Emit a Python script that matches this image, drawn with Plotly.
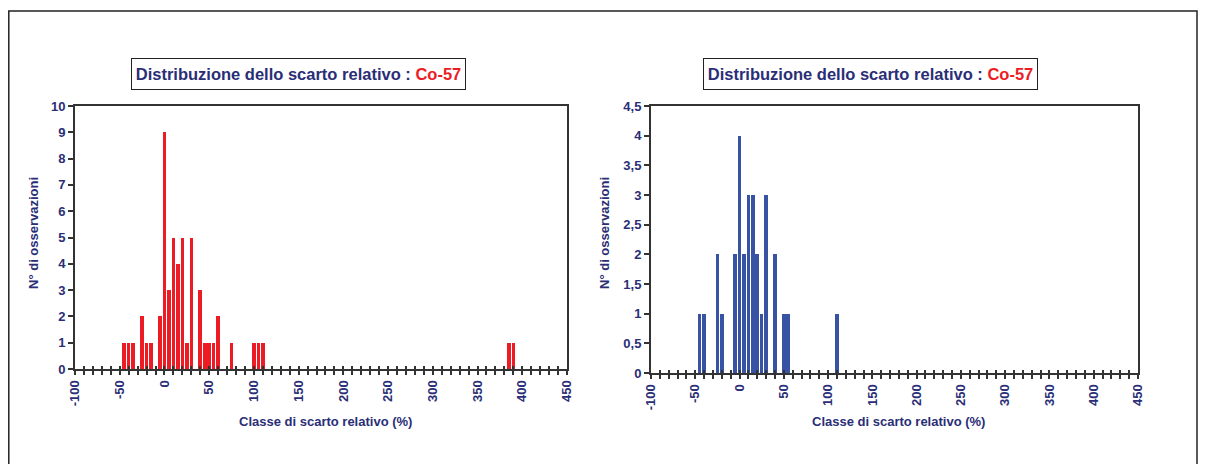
import plotly.graph_objects as go

# classi di scarto relativo (%) e numero di osservazioni
classi_sx = [-45, -40, -35, -25, -20, -15, -5, 0, 5, 10, 15, 20, 25, 30,
             40, 45, 50, 55, 60, 75, 100, 105, 110, 385, 390]
oss_sx = [1, 1, 1, 2, 1, 1, 2, 9, 3, 5, 4, 5, 1, 5,
          3, 1, 1, 1, 2, 1, 1, 1, 1, 1, 1]

classi_dx = [-45, -40, -25, -20, -5, 0, 5, 10, 15, 20, 25, 30, 40, 50, 55, 110]
oss_dx = [1, 1, 2, 1, 2, 4, 2, 3, 3, 2, 1, 3, 2, 1, 1, 1]

x_tick_vals = [-100, -50, 0, 50, 100, 150, 200, 250, 300, 350, 400, 450]
x_tick_text = ["-100", "-50", "0", "50", "100", "150", "200", "250", "300", "350", "400", "450"]

# the page body keeps its default 8px margin, so the figure is drawn 8px in
OFF = 8
W, H = 1206 - 2 * OFF, 472 - 2 * OFF
NAVY = "#2a2e76"
RED = "#ed1c24"
BLUE = "#3953a4"
LINE = "#333333"
FONT = "Liberation Sans, Arial, sans-serif"


def px_x(v):
    return (v - OFF) / W


def px_y(v):
    return 1 - (v - OFF) / H


def x_axis(domain, anchor):
    return dict(
        domain=domain, anchor=anchor, range=[-100, 450], automargin=False,
        tickmode="array", tickvals=x_tick_vals, ticktext=x_tick_text,
        tickangle=-90, ticks="outside", ticklen=4, tickwidth=1.5, tickcolor=LINE,
        minor=dict(dtick=10, tick0=-100, ticks="outside", ticklen=4,
                   tickwidth=1.5, tickcolor=LINE),
        showline=True, linecolor=LINE, linewidth=2, mirror=True,
        showgrid=False, zeroline=False,
        tickfont=dict(family=FONT, size=13, color=NAVY, weight="bold"),
    )


def x_inner(over, anchor):
    return dict(
        overlaying=over, anchor=anchor, range=[-100, 450], automargin=False,
        tick0=-100, dtick=10, ticks="inside", ticklen=3, tickwidth=1.5,
        tickcolor=LINE, showticklabels=False, showline=False,
        showgrid=False, zeroline=False,
    )


def y_axis(domain, anchor, top, step):
    return dict(
        domain=domain, anchor=anchor, range=[0, top], tick0=0, dtick=step,
        automargin=False,
        ticks="outside", ticklen=5, tickwidth=1.5, tickcolor=LINE,
        showline=True, linecolor=LINE, linewidth=2, mirror=True,
        showgrid=False, zeroline=False,
        tickfont=dict(family=FONT, size=13, color=NAVY, weight="bold"),
    )


fig = go.Figure()
fig.add_trace(go.Bar(x=classi_sx, y=oss_sx, width=4, marker=dict(color=RED, line_width=0),
                     xaxis="x", yaxis="y"))
fig.add_trace(go.Bar(x=classi_dx, y=oss_dx, width=4, marker=dict(color=BLUE, line_width=0),
                     xaxis="x2", yaxis="y2"))
fig.add_trace(go.Scatter(x=[None], y=[None], xaxis="x3", yaxis="y", hoverinfo="skip"))
fig.add_trace(go.Scatter(x=[None], y=[None], xaxis="x4", yaxis="y2", hoverinfo="skip"))

title = ("<b>Distribuzione dello scarto relativo : "
         f"<span style='color:{RED}'>Co-57</span></b>")

annotations = []
for cx in (298.5, 870):
    annotations.append(dict(
        text=title, x=px_x(cx), y=px_y(74), xref="paper", yref="paper",
        showarrow=False, xanchor="center", yanchor="middle",
        font=dict(family=FONT, size=16.5, color=NAVY),
        bordercolor="#222222", borderwidth=1, borderpad=1, bgcolor="white",
        width=331, height=28,
    ))
for cx in (33, 604):
    annotations.append(dict(
        text="<b>N° di osservazioni</b>", x=px_x(cx), y=px_y(233),
        xref="paper", yref="paper", showarrow=False, textangle=-90,
        xanchor="center", yanchor="middle",
        font=dict(family=FONT, size=13, color=NAVY),
    ))
for cx in (325, 898):
    annotations.append(dict(
        text="<b>Classe di scarto relativo (%)</b>", x=px_x(cx), y=px_y(421),
        xref="paper", yref="paper", showarrow=False,
        xanchor="center", yanchor="middle",
        font=dict(family=FONT, size=13, color=NAVY),
    ))

fig.update_layout(
    width=W, height=H, margin=dict(l=0, r=0, t=0, b=0, autoexpand=False),
    paper_bgcolor="white", plot_bgcolor="white", showlegend=False,
    separators=",.", bargap=0,
    xaxis=x_axis([px_x(75), px_x(567)], "y"),
    yaxis=y_axis([px_y(369), px_y(106)], "x", 10, 1),
    xaxis2=x_axis([px_x(651), px_x(1138)], "y2"),
    yaxis2=y_axis([px_y(373), px_y(106)], "x2", 4.5, 0.5),
    xaxis3=x_inner("x", "y"),
    xaxis4=x_inner("x2", "y2"),
    annotations=annotations,
    shapes=[dict(type="rect", xref="paper", yref="paper",
                 x0=px_x(8.8), x1=px_x(1197), y0=-0.2, y1=px_y(11),
                 line=dict(color="#222222", width=1.5))],
)

fig.write_html("out.html")
